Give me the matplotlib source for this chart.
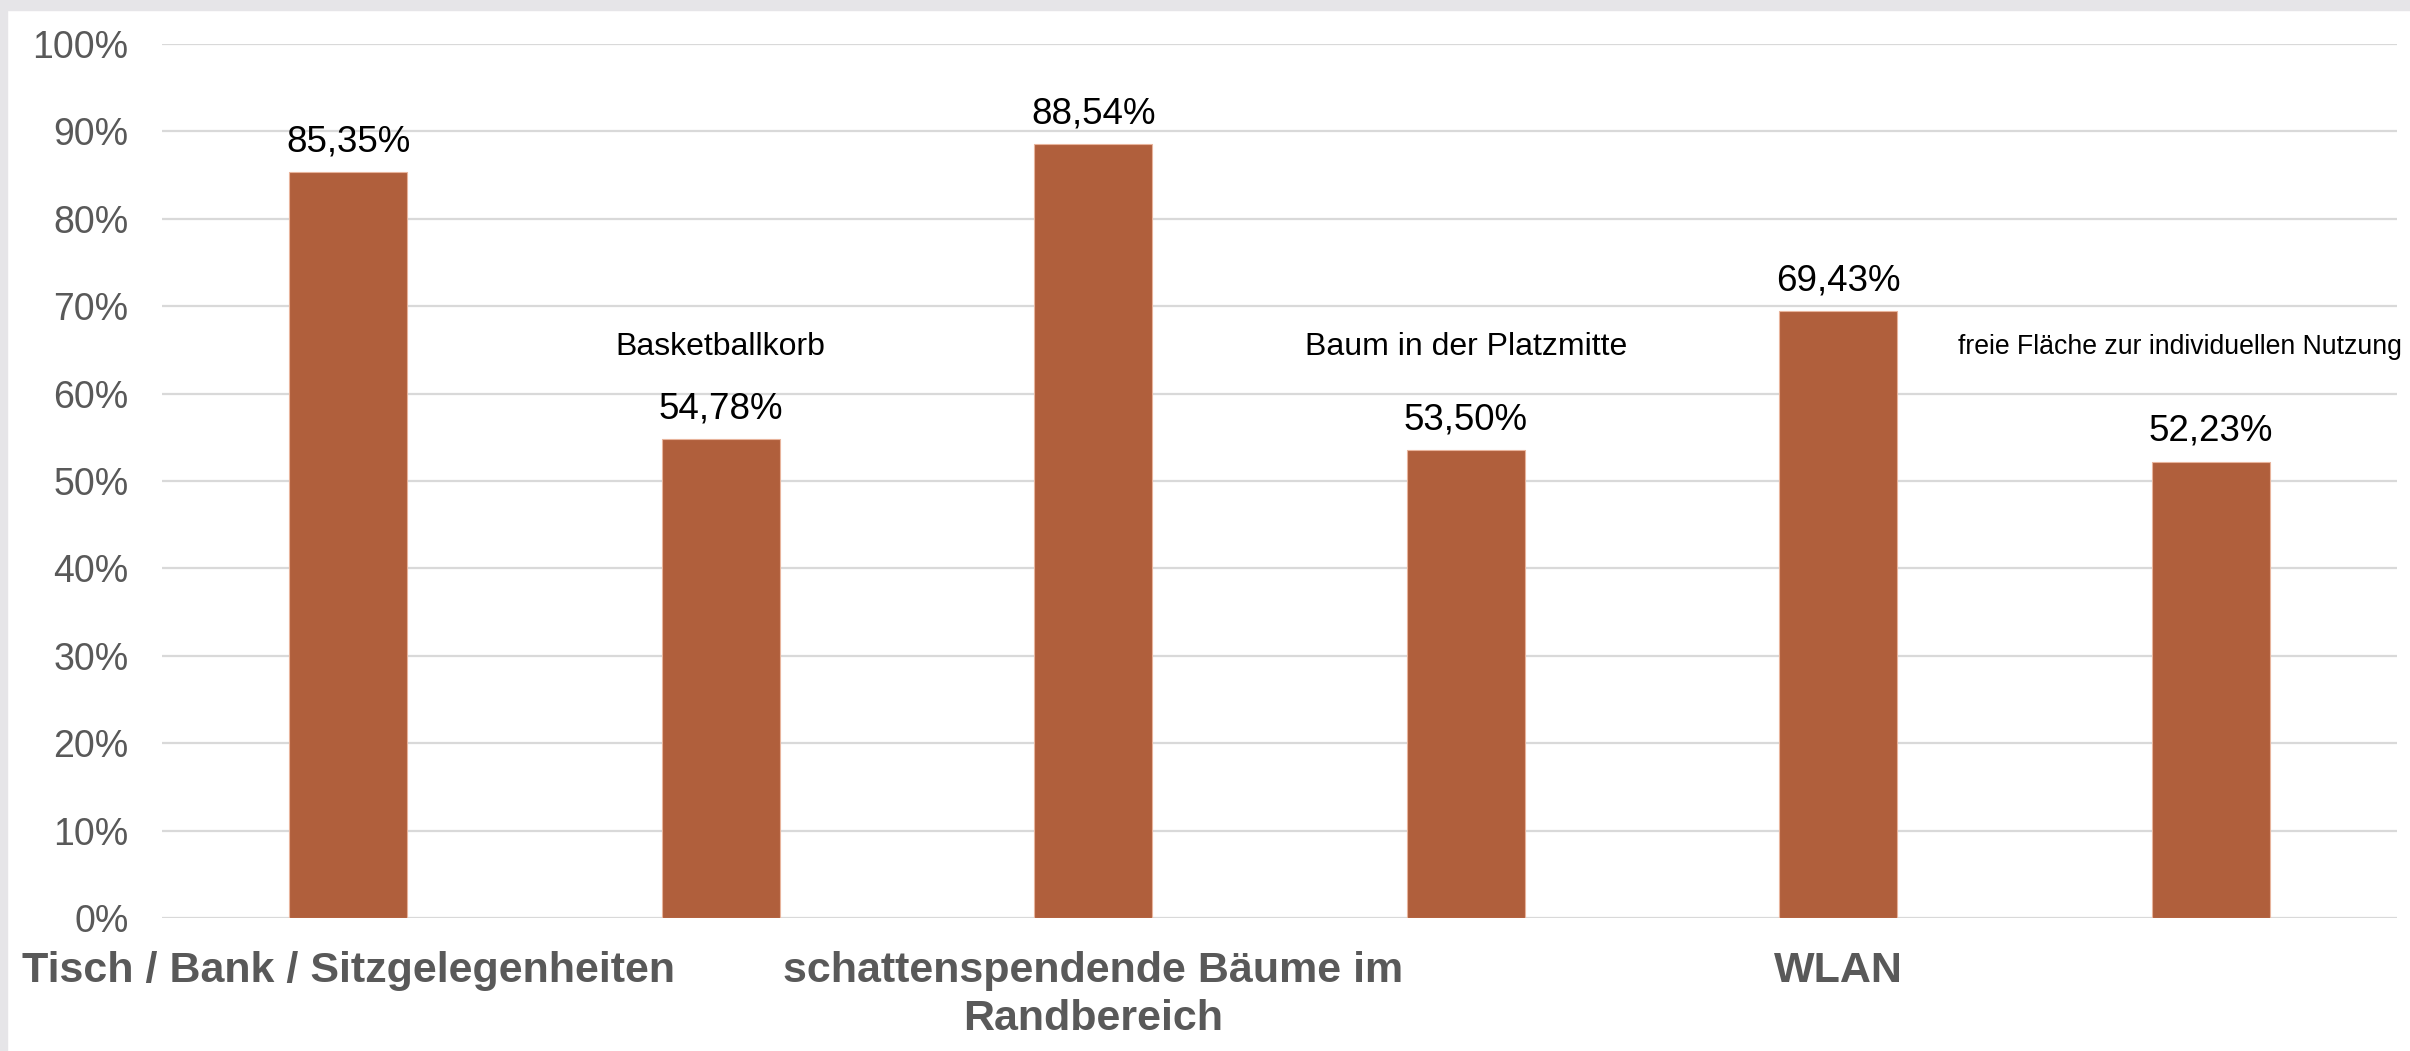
import matplotlib
matplotlib.use("Agg")
import matplotlib.pyplot as plt
from matplotlib import font_manager
from matplotlib.patches import Rectangle

# --- Data ---
categories = [
    "Tisch / Bank / Sitzgelegenheiten",
    "Basketballkorb",
    "schattenspendende Bäume im\nRandbereich",
    "Baum in der Platzmitte",
    "WLAN",
    "freie Fläche zur individuellen Nutzung",
]
values = [85.35, 54.78, 88.54, 53.50, 69.43, 52.23]
value_labels = ["85,35%", "54,78%", "88,54%", "53,50%", "69,43%", "52,23%"]
yticks = [0, 10, 20, 30, 40, 50, 60, 70, 80, 90, 100]

BAR = "#b05f3c"
GRAY_TXT = "#595959"

installed = {f.name for f in font_manager.fontManager.ttflist}
narrow = "Liberation Sans Narrow" if "Liberation Sans Narrow" in installed else "Liberation Sans"
plt.rcParams["font.family"] = ["Liberation Sans", "DejaVu Sans"]

fig = plt.figure(figsize=(24.1, 10.51), dpi=100)
# grey frame of the screenshot (top and left strips)
fig.patches.append(Rectangle((0, 1 - 10 / 1051), 1, 10 / 1051, transform=fig.transFigure,
                             color="#e6e5e8", zorder=0))
fig.patches.append(Rectangle((0, 0), 7 / 2410, 1, transform=fig.transFigure,
                             color="#e6e5e8", zorder=0))

ax = fig.add_axes([162 / 2410, 133 / 1051, 2235 / 2410, 874 / 1051])
x = list(range(len(categories)))
ax.bar(x, values, width=0.317, color=BAR, edgecolor="#e8b49c", linewidth=0.8, zorder=3)

# value labels
for xi, v, lab in zip(x, values, value_labels):
    ax.annotate(lab, (xi, v), xytext=(0, 15), textcoords="offset points",
                ha="center", va="baseline", fontsize=26.5, color="black")

ax.set_xlim(-0.5, len(categories) - 0.5)
ax.set_ylim(0, 100)
ax.set_yticks(yticks)
ax.set_yticklabels([f"{t}%" for t in yticks], fontsize=27, color=GRAY_TXT)
ax.grid(axis="y", color="#d9d9d9", linewidth=1.6, zorder=0)
ax.set_axisbelow(True)
for s in ax.spines.values():
    s.set_visible(False)
ax.tick_params(axis="y", length=0, pad=24)
ax.tick_params(axis="x", length=0, pad=24)

# only every second category sits on the axis, the others float above their bars
ax.set_xticks(x[::2])
ax.set_xticklabels(categories[::2], fontsize=31, fontweight="bold", color=GRAY_TXT,
                   family=[narrow, "Liberation Sans"], linespacing=1.25)
for xi in x[1:-1:2]:
    ax.text(xi, 65.3, categories[xi], ha="center", va="center", fontsize=23, color="black")
ax.text(1.0022, 0.653, categories[-1], transform=ax.transAxes, ha="right", va="center",
        fontsize=19.2, color="black")

fig.savefig("out.png", dpi=100, facecolor="white")
